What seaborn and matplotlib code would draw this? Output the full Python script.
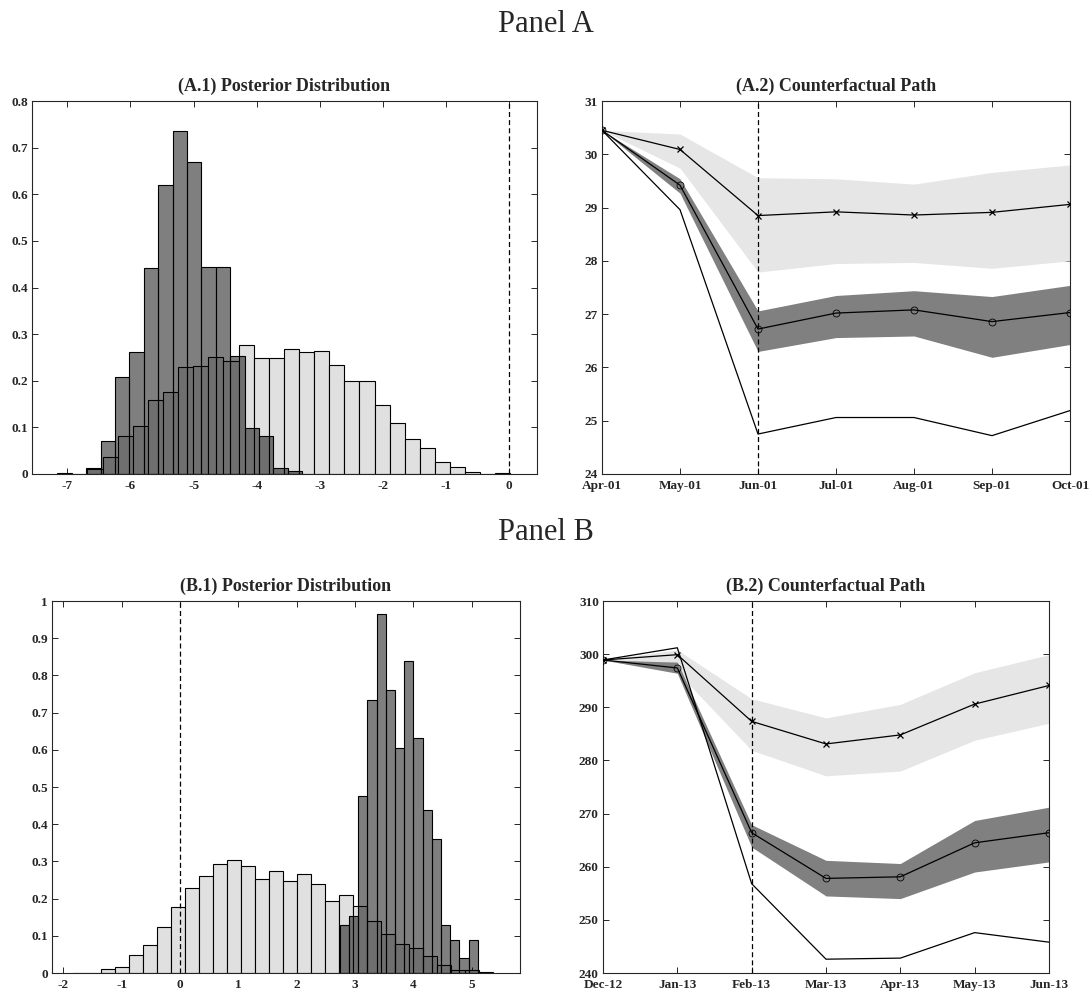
import numpy as np
import matplotlib
matplotlib.use('Agg')
import matplotlib.pyplot as plt
import seaborn as sns

# ---- panel A.1 : two posterior histograms (heights)
a1_wide_edges = np.linspace(-7.16, 0.02, 31)
a1_wide = [0.002, 0.001, 0.011, 0.037, 0.082, 0.103, 0.159, 0.175, 0.229, 0.232,
           0.252, 0.243, 0.277, 0.249, 0.249, 0.268, 0.261, 0.264, 0.234, 0.200,
           0.200, 0.149, 0.109, 0.076, 0.055, 0.026, 0.016, 0.004, 0.000, 0.0015]
a1_narrow_edges = np.linspace(-6.70, -3.28, 16)
a1_narrow = [0.012, 0.070, 0.209, 0.262, 0.442, 0.619, 0.735, 0.669, 0.445, 0.445,
             0.253, 0.098, 0.082, 0.013, 0.006]

# ---- panel B.1
b1_wide_edges = np.linspace(-1.844, 5.356, 31)
b1_wide = [0.001, 0.001, 0.012, 0.017, 0.049, 0.076, 0.124, 0.178, 0.229, 0.261,
           0.294, 0.304, 0.287, 0.252, 0.273, 0.247, 0.266, 0.238, 0.193, 0.210,
           0.180, 0.139, 0.106, 0.079, 0.067, 0.047, 0.022, 0.009, 0.009, 0.003]
b1_narrow_edges = np.linspace(2.736, 5.104, 16)
b1_narrow = [0.128, 0.154, 0.476, 0.735, 0.966, 0.760, 0.606, 0.838, 0.631, 0.438,
             0.361, 0.130, 0.090, 0.039, 0.090]

# ---- panel A.2 : counterfactual paths
a2_dates = ['Apr-01', 'May-01', 'Jun-01', 'Jul-01', 'Aug-01', 'Sep-01', 'Oct-01']
a2_cross = [30.45, 30.09, 28.85, 28.92, 28.86, 28.91, 29.06]
a2_cross_hi = [30.45, 30.38, 29.56, 29.54, 29.44, 29.66, 29.80]
a2_cross_lo = [30.45, 29.74, 27.79, 27.95, 27.97, 27.86, 28.00]
a2_circ = [30.45, 29.42, 26.72, 27.02, 27.08, 26.86, 27.03]
a2_circ_hi = [30.45, 29.54, 27.06, 27.35, 27.44, 27.33, 27.54]
a2_circ_lo = [30.45, 29.27, 26.30, 26.56, 26.59, 26.19, 26.43]
a2_actual = [30.45, 28.96, 24.75, 25.06, 25.06, 24.72, 25.19]

# ---- panel B.2
b2_dates = ['Dec-12', 'Jan-13', 'Feb-13', 'Mar-13', 'Apr-13', 'May-13', 'Jun-13']
b2_cross = [298.9, 299.9, 287.35, 283.1, 284.8, 290.6, 294.1]
b2_cross_hi = [298.9, 300.8, 291.6, 288.0, 290.55, 296.5, 299.9]
b2_cross_lo = [298.9, 296.6, 281.9, 277.1, 278.0, 283.8, 287.0]
b2_circ = [298.9, 297.4, 266.4, 257.8, 258.1, 264.5, 266.4]
b2_circ_hi = [298.9, 298.5, 267.9, 261.2, 260.6, 268.7, 271.2]
b2_circ_lo = [298.9, 296.4, 263.7, 254.5, 254.0, 259.0, 260.9]
b2_actual = [298.9, 301.2, 256.8, 242.6, 242.8, 247.6, 245.8]

sns.set_style('ticks')
plt.rcParams['font.family'] = ['Liberation Serif', 'DejaVu Serif']
plt.rcParams['axes.unicode_minus'] = False

LIGHT = '#e0e0e0'
DARK = (0, 0, 0, 0.5)
TICKFS = 9.5


def style_axes(ax):
    for s in ax.spines.values():
        s.set_color('#262626')
        s.set_linewidth(0.8)
    ax.tick_params(direction='in', top=True, right=True, length=4, width=0.7,
                   labelsize=TICKFS, color='#262626')
    ax.tick_params(axis='x', pad=4)
    ax.tick_params(axis='y', pad=3)
    for lab in ax.get_xticklabels() + ax.get_yticklabels():
        lab.set_fontweight('bold')
    ax.set_xlabel('')
    ax.set_ylabel('')


def one_hist(ax, edges, heights, face, z):
    e = np.asarray(edges)
    n0 = len(ax.patches)
    sns.histplot(x=(e[:-1] + e[1:]) / 2, weights=np.asarray(heights), ax=ax,
                 bins=len(e) - 1, binrange=(e[0], e[-1]),
                 stat='count', element='bars')
    for p in ax.patches[n0:]:
        p.set_alpha(None)
        p.set_facecolor(face)
        p.set_edgecolor('black')
        p.set_linewidth(0.8)
        p.set_zorder(z)


def hist_pair(ax, wide_edges, wide, narrow_edges, narrow):
    one_hist(ax, wide_edges, wide, LIGHT, 2)
    one_hist(ax, narrow_edges, narrow, DARK, 3)


def paths(ax, dates, cross, chi, clo, circ, ohi, olo, actual, vline):
    x = np.arange(len(dates))
    ax.fill_between(x, clo, chi, color='#e6e6e6', lw=0, zorder=1)
    ax.fill_between(x, olo, ohi, color='#808080', lw=0, zorder=1)
    sns.lineplot(x=x, y=actual, ax=ax, color='black', lw=0.9, zorder=3)
    sns.lineplot(x=x, y=cross, ax=ax, color='black', lw=0.9, marker='x',
                 markersize=4, markeredgewidth=0.9, markeredgecolor='black', zorder=3)
    sns.lineplot(x=x, y=circ, ax=ax, color='black', lw=0.9, marker='o',
                 markersize=5, markerfacecolor='none', markeredgewidth=0.6,
                 markeredgecolor='black', zorder=3)
    ax.axvline(vline, color='black', ls='--', lw=0.9, dashes=(4, 2.5), zorder=4)
    ax.set_xlim(0, len(dates) - 1)
    ax.set_xticks(x)
    ax.set_xticklabels(dates)


fig = plt.figure(figsize=(10.89, 9.92), dpi=100)
W, H = 1089.0, 992.0


def axes_px(x0, y0, x1, y1):
    return fig.add_axes([x0 / W, 1 - y1 / H, (x1 - x0) / W, (y1 - y0) / H])


fig.text(0.501, 1 - 24 / H, 'Panel A', ha='center', va='center', fontsize=22)
fig.text(0.501, 1 - 532 / H, 'Panel B', ha='center', va='center', fontsize=22)

# A.1
ax = axes_px(32, 101, 537, 474)
hist_pair(ax, a1_wide_edges, a1_wide, a1_narrow_edges, a1_narrow)
ax.axvline(0, color='black', ls='--', lw=0.9, dashes=(4, 2.5), zorder=4)
ax.set_xlim(-7.56, 0.44)
ax.set_ylim(0, 0.8)
ax.set_xticks(range(-7, 1))
ax.set_xticklabels([str(v) for v in range(-7, 1)])
ax.set_yticks(np.arange(9) / 10)
ax.set_yticklabels(['0'] + ['0.%d' % i for i in range(1, 9)])
ax.set_title('(A.1) Posterior Distribution', fontsize=13, fontweight='bold', pad=7)
style_axes(ax)

# A.2
ax = axes_px(602, 101, 1070, 474)
paths(ax, a2_dates, a2_cross, a2_cross_hi, a2_cross_lo,
      a2_circ, a2_circ_hi, a2_circ_lo, a2_actual, 2)
ax.set_ylim(24, 31)
ax.set_yticks(range(24, 32))
ax.set_title('(A.2) Counterfactual Path', fontsize=13, fontweight='bold', pad=7)
style_axes(ax)

# B.1
ax = axes_px(52, 601, 520, 973)
hist_pair(ax, b1_wide_edges, b1_wide, b1_narrow_edges, b1_narrow)
ax.axvline(0, color='black', ls='--', lw=0.9, dashes=(4, 2.5), zorder=4)
ax.set_xlim(-2.196, 5.827)
ax.set_ylim(0, 1)
ax.set_xticks(range(-2, 6))
ax.set_xticklabels([str(v) for v in range(-2, 6)])
ax.set_yticks(np.arange(11) / 10)
ax.set_yticklabels(['0'] + ['0.%d' % i for i in range(1, 10)] + ['1'])
ax.set_title('(B.1) Posterior Distribution', fontsize=13, fontweight='bold', pad=7)
style_axes(ax)

# B.2
ax = axes_px(603, 601, 1049, 973)
paths(ax, b2_dates, b2_cross, b2_cross_hi, b2_cross_lo,
      b2_circ, b2_circ_hi, b2_circ_lo, b2_actual, 2)
ax.set_ylim(240, 310)
ax.set_yticks(range(240, 311, 10))
ax.set_title('(B.2) Counterfactual Path', fontsize=13, fontweight='bold', pad=7)
style_axes(ax)

fig.savefig('out.png', dpi=100)
